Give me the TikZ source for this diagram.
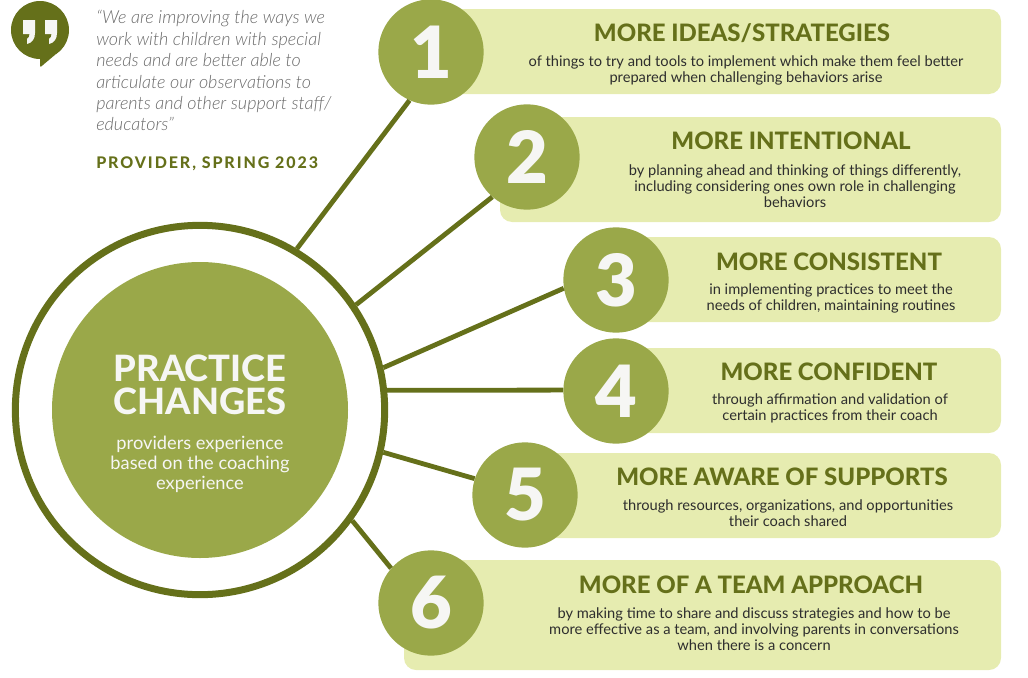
\documentclass[tikz,border=0pt]{standalone}
\usepackage{fontspec}
\setmainfont{Lato}
\newfontfamily\quotefont{Lato Light}
\newfontfamily\heavyfont{Lato Heavy}
\newfontfamily\blackfont{Lato Black}
\usepackage{xcolor}
\definecolor{darkolive}{HTML}{65701A}
\definecolor{midolive}{HTML}{9AA849}
\definecolor{paleolive}{HTML}{E6ECB0}
\definecolor{bodygrey}{HTML}{2E2E2E}
\definecolor{quotegrey}{HTML}{6A6A6A}
\definecolor{nearwhite}{HTML}{F6F6F4}
\begin{document}
\begin{tikzpicture}[x=0.75pt, y=-0.75pt,
    bar/.style={fill=paleolive, rounded corners=9pt},
    numdisc/.style={circle, fill=midolive, minimum size=79pt, inner sep=0pt, text=nearwhite, font=\fontsize{54}{54}\selectfont\blackfont},
    spoke/.style={draw=darkolive, line width=3.6pt},
    headtext/.style={text=darkolive, align=center, font=\fontsize{18}{20}\selectfont\heavyfont},
    bodytext/.style={text=bodygrey, align=center, font=\fontsize{11}{12}\selectfont}]
    \useasboundingbox (0,0) rectangle (1028,678);
    % panels behind the discs
    \fill[bar] (430,9) rectangle (1001,94);
    \fill[bar] (500,117) rectangle (1001,222);
    \fill[bar] (616,237) rectangle (1001,322);
    \fill[bar] (616,348) rectangle (1001,433);
    \fill[bar] (525,453) rectangle (1001,538);
    \fill[bar] (404,560) rectangle (1001,670);
    % hub
    \node[circle, draw=darkolive, line width=5.25pt, minimum size=277pt, inner sep=0pt] (ring) at (200,410) {};
    \node[circle, fill=midolive, minimum size=222pt, inner sep=0pt] (hub) at (200,410) {};
    % discs
    \node[numdisc] (n1) at (431,52) {1};
    \node[numdisc] (n2) at (527,157) {2};
    \node[numdisc] (n3) at (616,280) {3};
    \node[numdisc] (n4) at (616,391) {4};
    \node[numdisc] (n5) at (525,495) {5};
    \node[numdisc] (n6) at (431,603) {6};
    % spokes
    \draw[spoke] (ring.59) -- (n1.-114);
    \draw[spoke] (ring.34.6) -- (n2.-131);
    \draw[spoke] (ring.13.8) -- (n3.-171);
    \draw[spoke] (ring.6) -- (n4.179);
    \draw[spoke] (ring.-13.2) -- (n5.162.4);
    \draw[spoke] (ring.-36.4) -- (n6.139.4);
    % hub text
    \node[text=nearwhite, align=center, font=\fontsize{27.2}{25}\selectfont\heavyfont] (hubtitle) at (200,385) {PRACTICE\\CHANGES};
    \node[text=nearwhite, align=center, font=\fontsize{13.7}{15}\selectfont] (hubtext) at (200,464) {providers experience\\based on the coaching\\experience};
    % panel text
    \node[headtext] (h1) at (742,33) {MORE IDEAS/STRATEGIES};
    \node[bodytext] (b1) at (746,70) {of things to try and tools to implement which make them feel better\\prepared when challenging behaviors arise};
    \node[headtext] (h2) at (791,141) {MORE INTENTIONAL};
    \node[bodytext] (b2) at (795,186) {by planning ahead and thinking of things differently,\\including considering ones own role in challenging\\behaviors};
    \node[headtext] (h3) at (829,262) {MORE CONSISTENT};
    \node[bodytext] (b3) at (831,298) {in implementing practices to meet the\\needs of children, maintaining routines};
    \node[headtext] (h4) at (829,372) {MORE CONFIDENT};
    \node[bodytext] (b4) at (830,408) {through affirmation and validation of\\certain practices from their coach};
    \node[headtext] (h5) at (782,477) {MORE AWARE OF SUPPORTS};
    \node[bodytext] (b5) at (788,513) {through resources, organizations, and opportunities\\their coach shared};
    \node[headtext] (h6) at (751,585) {MORE OF A TEAM APPROACH};
    \node[bodytext] (b6) at (754,629) {by making time to share and discuss strategies and how to be\\more effective as a team, and involving parents in conversations\\when there is a concern};
    % quote
    \node[circle, fill=darkolive, minimum size=43.5pt, inner sep=0pt] (bubble) at (40,30) {};
    \fill[darkolive, rounded corners=1pt] (40,56) -- (40,67.5) -- (56,54) -- cycle;
    \foreach \dx in {0,22} {
        \fill[nearwhite, xshift=\dx*0.75pt] (23,20) -- (35,20) -- (35,33) .. controls (35,39) and (32,43) .. (27,44) -- (27,39) .. controls (29,38) and (29.5,36) .. (29.5,34) -- (23,34) -- cycle;
    }
    \node[anchor=north west, text=quotegrey, align=left, inner sep=0pt, font=\quotefont\itshape\fontsize{13.5}{16.1}\selectfont] (quote) at (96,10) {“We are improving the ways we\\work with children with special\\needs and are better able to\\articulate our observations to\\parents and other support staff/\\educators”};
    \node[anchor=west, text=darkolive, inner sep=0pt, font=\fontsize{12}{14}\selectfont\heavyfont] (source) at (96,164) {\addfontfeature{LetterSpace=12}PROVIDER, SPRING 2023};
\end{tikzpicture}
\end{document}
